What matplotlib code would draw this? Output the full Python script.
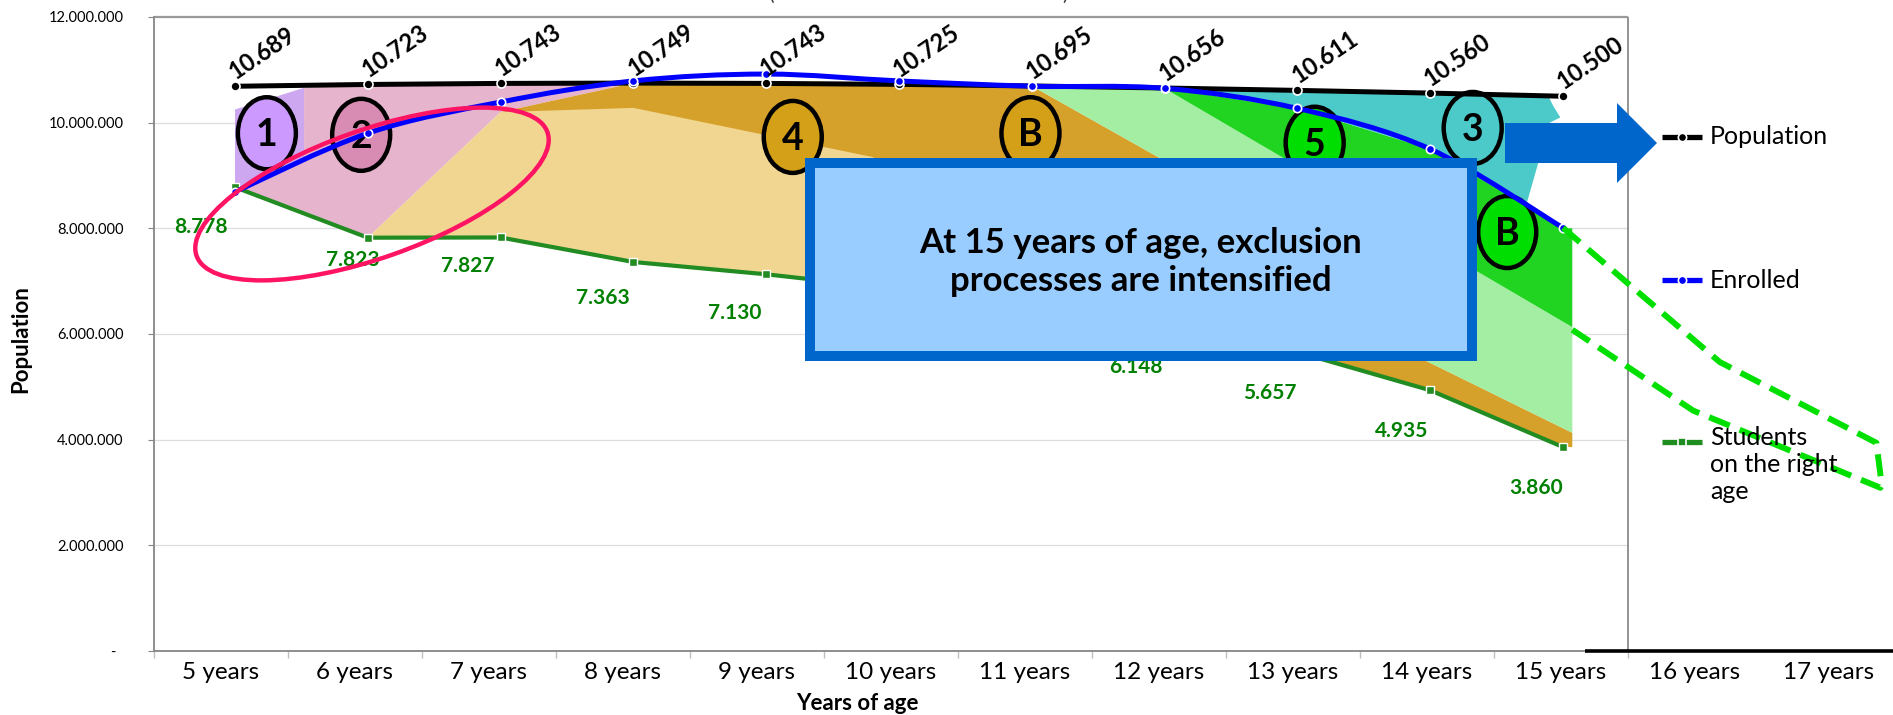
import matplotlib
matplotlib.use("Agg")
import matplotlib.pyplot as plt
from matplotlib.patches import Polygon, Ellipse, Rectangle, PathPatch
from matplotlib.path import Path
from matplotlib.transforms import ScaledTranslation
from matplotlib.lines import Line2D

plt.rcParams['font.family'] = ['Lato', 'DejaVu Sans']

# ---------------- data (values in thousands) ----------------
age_labels = ["5 years", "6 years", "7 years", "8 years", "9 years", "10 years",
              "11 years", "12 years", "13 years", "14 years", "15 years",
              "16 years", "17 years"]
population = [10689, 10723, 10743, 10749, 10743, 10725, 10695, 10656, 10611, 10560, 10500]
enrolled = [8690, 9800, 10390, 10790, 10920, 10790, 10690, 10650, 10270, 9500, 8010]
students = [8778, 7823, 7827, 7363, 7130, 6850, 6550, 6148, 5657, 4935, 3860]
y_ticks = [0, 2000000, 4000000, 6000000, 8000000, 10000000, 12000000]

# hand-drawn regions: (age index, thousands)
region_1 = [(0, 8690), (0, 10250), (0.52, 10660), (0.52, 9350)]
region_2 = [(0, 8778), (0, 8690), (0.52, 9350), (0.52, 10660), (1, 10723),
            (2, 10743), (3, 10749), (2, 10200), (1, 7823)]
region_pale_top = [(1, 7823), (2, 10200), (3, 10280), (4.8, 9350), (7.8, 5755)]
region_4_top = [(2, 10200), (3, 10749), (4, 10743), (5, 10725), (6, 10695),
                (6.95, 9350), (8.8, 5700), (10.07, 4130), (10.07, 3860)]
region_lightgreen = [(6, 10695), (7, 10656), (10.07, 6130), (10.07, 4130),
                     (8.8, 5700), (6.95, 9350)]
region_5 = [(7, 10650), (8, 10270), (9, 9500), (10, 8010), (10.07, 8000), (10.07, 6130)]
region_3 = [(7, 10656), (8, 10611), (9, 10560), (9.89, 10500), (9.93, 10300),
            (9.98, 10100), (9.9, 10000), (9.73, 8500), (9, 9500), (8, 10270), (7, 10650)]
proj_upper = [(10.0, 8010), (11.18, 5470), (12.36, 3940), (12.40, 3140)]
proj_lower = [(12.39, 3090), (10.98, 4550), (10.07, 6080)]

circle_marks = [("1", 0.24, 9800, '#CC99FF'), ("2", 0.95, 9770, '#D98CB3'),
                ("4", 4.20, 9730, '#D4A017'), ("B", 5.99, 9800, '#D4A017'),
                ("5", 8.13, 9620, '#00DD00'), ("3", 9.32, 9900, '#4CC9C9'),
                ("B", 9.58, 7930, '#00DD00')]

# ---------------- figure ----------------
W, H = 1893, 715
fig = plt.figure(figsize=(W / 100, H / 100), dpi=100)
L, R, T, B = 154, 1893, 17, 651
rect = [L / W, 1 - B / H, (R - L) / W, (B - T) / H]

def P(x, y):
    return (x / 100.0, (H - y) / 100.0)

ax = fig.add_axes(rect)
ax.set_xlim(-0.5, -0.5 + (R - L) / 134.0)
ax.set_ylim(0, 12e6)
ax.set_yticks(y_ticks)
ax.set_yticklabels(['-  ' if v == 0 else f"{v:,}".replace(',', '.') for v in y_ticks],
                   fontsize=10.5)
ax.set_xticks(range(len(age_labels)))
ax.set_xticklabels(age_labels, fontsize=17.5)
ax.set_xticks([i - 0.5 for i in range(12)], minor=True)
ax.tick_params(axis='x', which='major', length=0, pad=8)
ax.tick_params(axis='x', which='minor', length=5, color='#BFBFBF', width=1)
ax.tick_params(axis='y', length=4, color='#868686', pad=18)
for s in ['top', 'right']:
    ax.spines[s].set_visible(False)
for s in ['left', 'bottom']:
    ax.spines[s].set_color('#868686')
    ax.spines[s].set_linewidth(1.3)
ax.hlines(y_ticks[1:-1], -0.5, 10.5, color='#DDDDDD', lw=0.9, zorder=0)
ax.hlines(12e6, -0.5, 10.5, color='#9A9A9A', lw=1.6, clip_on=False)
ax.vlines(10.5, 0, 12e6, color='#8A8A8A', lw=1.3)
ax.plot([10.18, 12.48], [0, 0], color='black', lw=2.6, solid_capstyle='butt', clip_on=False, zorder=5)

# overlay axes for the series
ax2 = fig.add_axes(rect)
ax2.set_xlim(-(235 - L) / 132.8, (R - 235) / 132.8)
ax2.set_ylim(0, 12e6)
ax2.axis('off')

def poly(pts, color, z=1):
    ax2.add_patch(Polygon([(x, v * 1000) for x, v in pts], closed=True,
                          facecolor=color, edgecolor='none', zorder=z))

idx = list(range(len(population)))
pale = region_pale_top + [(i, students[i]) for i in range(7, 1, -1)]
orange = region_4_top + [(i, students[i]) for i in range(10, 1, -1)]
poly(region_2, '#E6B4CD', 1)
poly(region_1, '#CDA8F0', 1.1)
poly(orange, '#D6A12A', 1)
poly(pale, '#F0D690', 1.1)
poly(region_lightgreen, '#A4EEA4', 1)
poly(region_5, '#22D422', 1.1)
poly(region_3, '#4CC9C9', 1.2)

# projection outline (dashed)
proj = proj_upper + proj_lower
ax2.plot([p[0] for p in proj], [p[1] * 1000 for p in proj], color='#00E000', lw=4.3,
         dashes=(3.7, 1.8), clip_on=False, zorder=4)

# circles (behind the lines)
for lab, cx, cy, col in circle_marks:
    tr = fig.dpi_scale_trans + ScaledTranslation(cx, cy * 1000, ax2.transData)
    ax2.add_patch(Ellipse((0, 0), 0.58, 0.72, facecolor=col, edgecolor='black',
                          lw=3.2, transform=tr, zorder=2.5))
    ax2.annotate(lab, (cx, cy * 1000), xytext=(0, -2), textcoords='offset pixels',
                 ha='center', va='center', fontsize=27, weight='bold', zorder=2.6)

# lines
ax2.plot(idx, [v * 1000 for v in students], color='#228B22', lw=3.0, zorder=3,
         marker='s', ms=6, mfc='#228B22', mec='white', mew=1)
ax2.plot(idx, [v * 1000 for v in population], color='black', lw=3.6, zorder=3.1,
         marker='o', ms=6.5, mfc='black', mec='white', mew=1.2)

def smooth_path(xs, ys):
    verts = [(xs[0], ys[0])]
    codes = [Path.MOVETO]
    n = len(xs)
    for i in range(n - 1):
        x0, y0 = xs[max(i - 1, 0)], ys[max(i - 1, 0)]
        x1, y1 = xs[i], ys[i]
        x2, y2 = xs[i + 1], ys[i + 1]
        x3, y3 = xs[min(i + 2, n - 1)], ys[min(i + 2, n - 1)]
        verts += [(x1 + (x2 - x0) / 6, y1 + (y2 - y0) / 6),
                  (x2 - (x3 - x1) / 6, y2 - (y3 - y1) / 6), (x2, y2)]
        codes += [Path.CURVE4] * 3
    return Path(verts, codes)

ax2.add_patch(PathPatch(smooth_path(idx, [v * 1000 for v in enrolled]), fill=False,
                        edgecolor='#0000FF', lw=3.6, zorder=3.2))
ax2.plot(idx, [v * 1000 for v in enrolled], ls='none', marker='o', ms=6, mfc='#0000FF',
         mec='white', mew=1.2, zorder=3.3)

# data labels
for i, v in enumerate(population):
    ax2.annotate(f"{v:,}".replace(',', '.'), (i, v * 1000), xytext=(3, 3),
                 textcoords='offset pixels', rotation=34, rotation_mode='anchor',
                 ha='left', va='bottom', fontsize=17, weight='bold', zorder=4)
student_offsets = [(-34, -40), (-15, -22), (-33, -29), (-31, -36), (-32, -39), (-30, -41),
                   (-30, -41), (-29, -41), (-28, -41), (-29, -41), (-27, -41)]
for i, v in enumerate(students):
    ax2.annotate(f"{v:,}".replace(',', '.'), (i, v * 1000), xytext=student_offsets[i],
                 textcoords='offset pixels', ha='center', va='center', fontsize=15,
                 weight='bold', color='#008000', zorder=4)

# highlight ring
fig.patches.append(Ellipse(P(372, 194), 3.72, 1.28, angle=19.4, fill=False,
                           edgecolor='#FF1464', lw=3.2, transform=fig.dpi_scale_trans,
                           zorder=8))

# text box
x0, y0 = P(810, 356)
x1, y1 = P(1472, 163)
fig.patches.append(Rectangle((x0, y0), x1 - x0, y1 - y0, facecolor='#99CCFF',
                             edgecolor='#0066CC', lw=7.2, transform=fig.dpi_scale_trans,
                             zorder=9))
fig.text(1141 / W, 1 - 262 / H, "At 15 years of age, exclusion\nprocesses are intensified",
         ha='center', va='center', fontsize=25, weight='bold', zorder=10, linespacing=1.25)

# block arrow
arrow_px = [(1505, 123), (1617, 123), (1617, 103), (1657, 143), (1617, 183), (1617, 163), (1505, 163)]
fig.patches.append(Polygon([P(x, y) for x, y in arrow_px], closed=True, facecolor='#0066CC',
                           edgecolor='none', transform=fig.dpi_scale_trans, zorder=9))

# legend
leg = [("Population", 'black', 'o', 137), ("Enrolled", '#0000FF', 'o', 280),
       ("Students\non the right\nage", '#1E8C1E', 's', 442)]
for txt, col, mk, yy in leg:
    (a, b), (c, d) = P(1662, yy), P(1702, yy)
    fig.add_artist(Line2D([a, c], [b, d], color=col, lw=3.8, transform=fig.dpi_scale_trans,
                          solid_capstyle='butt'))
    fig.add_artist(Line2D([(a + c) / 2], [b], marker=mk, ms=6, mfc=col, mec='white', mew=1.2,
                          transform=fig.dpi_scale_trans))
    if '\n' in txt:
        fig.text(1710 / W, 1 - (yy - 16) / H, txt, ha='left', va='top', fontsize=18,
                 linespacing=1.2)
    else:
        fig.text(1710 / W, 1 - yy / H, txt, ha='left', va='center', fontsize=18)

# axis titles
fig.text(857 / W, 1 - 704 / H, "Years of age", ha='center', va='center', fontsize=16, weight='bold')
fig.text(21 / W, 1 - 339 / H, "Population", rotation=90, ha='center', va='center',
         fontsize=16, weight='bold')
# clipped chart title (only the bottom of its parentheses is visible)
fig.text(772 / W, 1 + 6 / H, "(", ha='center', va='center', fontsize=15, color='#404040')
fig.text(1065 / W, 1 + 6 / H, ")", ha='center', va='center', fontsize=15, color='#404040')

fig.savefig("out.png", dpi=100)
